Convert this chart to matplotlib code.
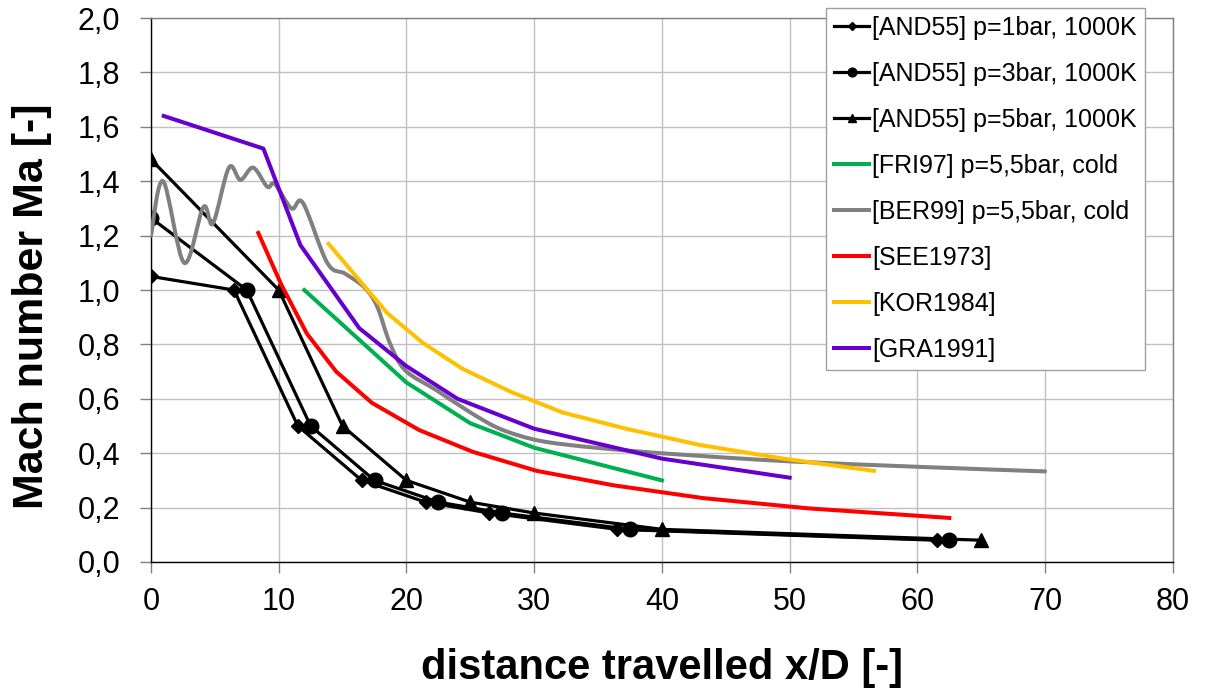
import matplotlib
matplotlib.use("Agg")
import matplotlib.pyplot as plt
import numpy as np
from matplotlib.path import Path
from matplotlib.patches import PathPatch
from matplotlib.ticker import FuncFormatter, MultipleLocator

plt.rcParams['font.family'] = ['Liberation Sans', 'DejaVu Sans']

# [AND55] measurements, 1000 K
and1_x = [0, 6.5, 11.5, 16.5, 21.5, 26.5, 36.5, 61.5]
and1_y = [1.05, 1.0, 0.5, 0.3, 0.22, 0.18, 0.12, 0.08]
and3_x = [0, 7.5, 12.5, 17.5, 22.5, 27.5, 37.5, 62.5]
and3_y = [1.265, 1.0, 0.5, 0.3, 0.22, 0.18, 0.12, 0.08]
and5_x = [0, 10, 15, 20, 25, 30, 40, 65]
and5_y = [1.48, 1.0, 0.5, 0.3, 0.22, 0.18, 0.12, 0.08]

# [FRI97] p=5,5bar cold
fri_x = [12, 20, 25, 30, 40]
fri_y = [1.0, 0.66, 0.51, 0.42, 0.30]

# [BER99] p=5,5bar cold (smoothed line)
ber_x = [0, 0.95, 2.6, 4.1, 4.85, 6.1, 7.0, 8.0, 9.1, 9.7, 11.0, 11.9, 13.8,
         15.2, 16.7, 17.7, 18.7, 19.9, 22.4, 25, 27.3, 30, 32.8, 37.2, 43,
         50, 60, 70]
ber_y = [1.20, 1.40, 1.10, 1.305, 1.245, 1.45, 1.405, 1.45, 1.38, 1.39, 1.30,
         1.32, 1.10, 1.06, 1.01, 0.94, 0.805, 0.705, 0.63, 0.55, 0.49, 0.45,
         0.43, 0.41, 0.39, 0.37, 0.35, 0.333]

# [SEE1973]
see_x = [8.4, 10.2, 12.2, 14.5, 17.3, 21, 25.2, 30.2, 36.2, 43.2, 51.5, 62.5]
see_y = [1.21, 1.02, 0.84, 0.70, 0.585, 0.485, 0.405, 0.335, 0.282, 0.235,
         0.197, 0.162]

# [KOR1984]
kor_x = [13.9, 18.5, 21.3, 24.4, 28.2, 32.2, 37.2, 43, 49.5, 56.6]
kor_y = [1.17, 0.915, 0.805, 0.71, 0.625, 0.55, 0.49, 0.43, 0.38, 0.335]

# [GRA1991]
gra_x = [1, 8.8, 11.7, 16.3, 20, 24, 30, 40, 50]
gra_y = [1.64, 1.52, 1.165, 0.86, 0.72, 0.60, 0.49, 0.38, 0.31]


def smooth_path(xs, ys):
    # Catmull-Rom segments written as cubic Bezier curves
    p = np.column_stack([xs, ys]).astype(float)
    n = len(p)
    verts = [p[0]]
    codes = [Path.MOVETO]
    for i in range(n - 1):
        p0 = p[i - 1] if i > 0 else p[i]
        p1 = p[i]
        p2 = p[i + 1]
        p3 = p[i + 2] if i + 2 < n else p[i + 1]
        verts += [p1 + (p2 - p0) / 6, p2 - (p3 - p1) / 6, p2]
        codes += [Path.CURVE4] * 3
    return Path(verts, codes)


fig = plt.figure(figsize=(12.05, 6.95), dpi=100)
ax = fig.add_axes([0.1253, 0.1914, 0.848, 0.7826])

lw_k = 2.3
lw_c = 2.9
h1, = ax.plot(and1_x, and1_y, color='black', lw=lw_k, marker='D', ms=7.5,
              label='[AND55] p=1bar, 1000K', zorder=3)
h2, = ax.plot(and3_x, and3_y, color='black', lw=lw_k, marker='o', ms=10.5,
              label='[AND55] p=3bar, 1000K', zorder=3)
h3, = ax.plot(and5_x, and5_y, color='black', lw=lw_k, marker='^', ms=10.5,
              label='[AND55] p=5bar, 1000K', zorder=3)
h4, = ax.plot(fri_x, fri_y, color='#00B050', lw=lw_c,
              label='[FRI97] p=5,5bar, cold', zorder=4)
ax.add_patch(PathPatch(smooth_path(ber_x, ber_y), fill=False, edgecolor='#808080',
                       lw=lw_c, zorder=5, capstyle='round'))
h5, = ax.plot([], [], color='#808080', lw=lw_c, label='[BER99] p=5,5bar, cold')
h6, = ax.plot(see_x, see_y, color='#FF0000', lw=lw_c, label='[SEE1973]', zorder=6)
h7, = ax.plot(kor_x, kor_y, color='#FFC000', lw=lw_c, label='[KOR1984]', zorder=7)
h8, = ax.plot(gra_x, gra_y, color='#6600CC', lw=lw_c, label='[GRA1991]', zorder=8)

ax.set_xlim(0, 80)
ax.set_ylim(0, 2.0)
ax.xaxis.set_major_locator(MultipleLocator(10))
ax.yaxis.set_major_locator(MultipleLocator(0.2))
ax.yaxis.set_major_formatter(FuncFormatter(lambda v, pos: f'{v:.1f}'.replace('.', ',')))
ax.grid(True, color='#C0C0C0', lw=1.0)
ax.set_axisbelow(True)
ax.tick_params(axis='both', labelsize=22, length=8, width=1, color='#808080')
ax.tick_params(axis='y', pad=14)
ax.tick_params(axis='x', pad=10)

ax.spines['left'].set_color('black')
ax.spines['bottom'].set_color('black')
ax.spines['top'].set_color('#808080')
ax.spines['right'].set_color('#808080')
for s in ax.spines.values():
    s.set_linewidth(1.0)

ax.set_xlabel('distance travelled x/D [-]', fontsize=30, fontweight='bold', labelpad=22)
ax.set_ylabel('Mach number Ma [-]', fontsize=31, fontweight='bold')
ax.yaxis.set_label_coords(-0.097, 0.47)

leg = fig.legend(handles=[h1, h2, h3, h4, h5, h6, h7, h8], loc='upper left',
                 bbox_to_anchor=(0.6855, 0.9885), fontsize=18, frameon=True,
                 fancybox=False, edgecolor='#A0A0A0', framealpha=1,
                 handlelength=1.4, handletextpad=0.12, labelspacing=0.88,
                 borderpad=0.32, markerscale=0.6, borderaxespad=0)
leg.get_frame().set_linewidth(1.0)
leg.set_zorder(20)

fig.savefig('out.png', dpi=100)
